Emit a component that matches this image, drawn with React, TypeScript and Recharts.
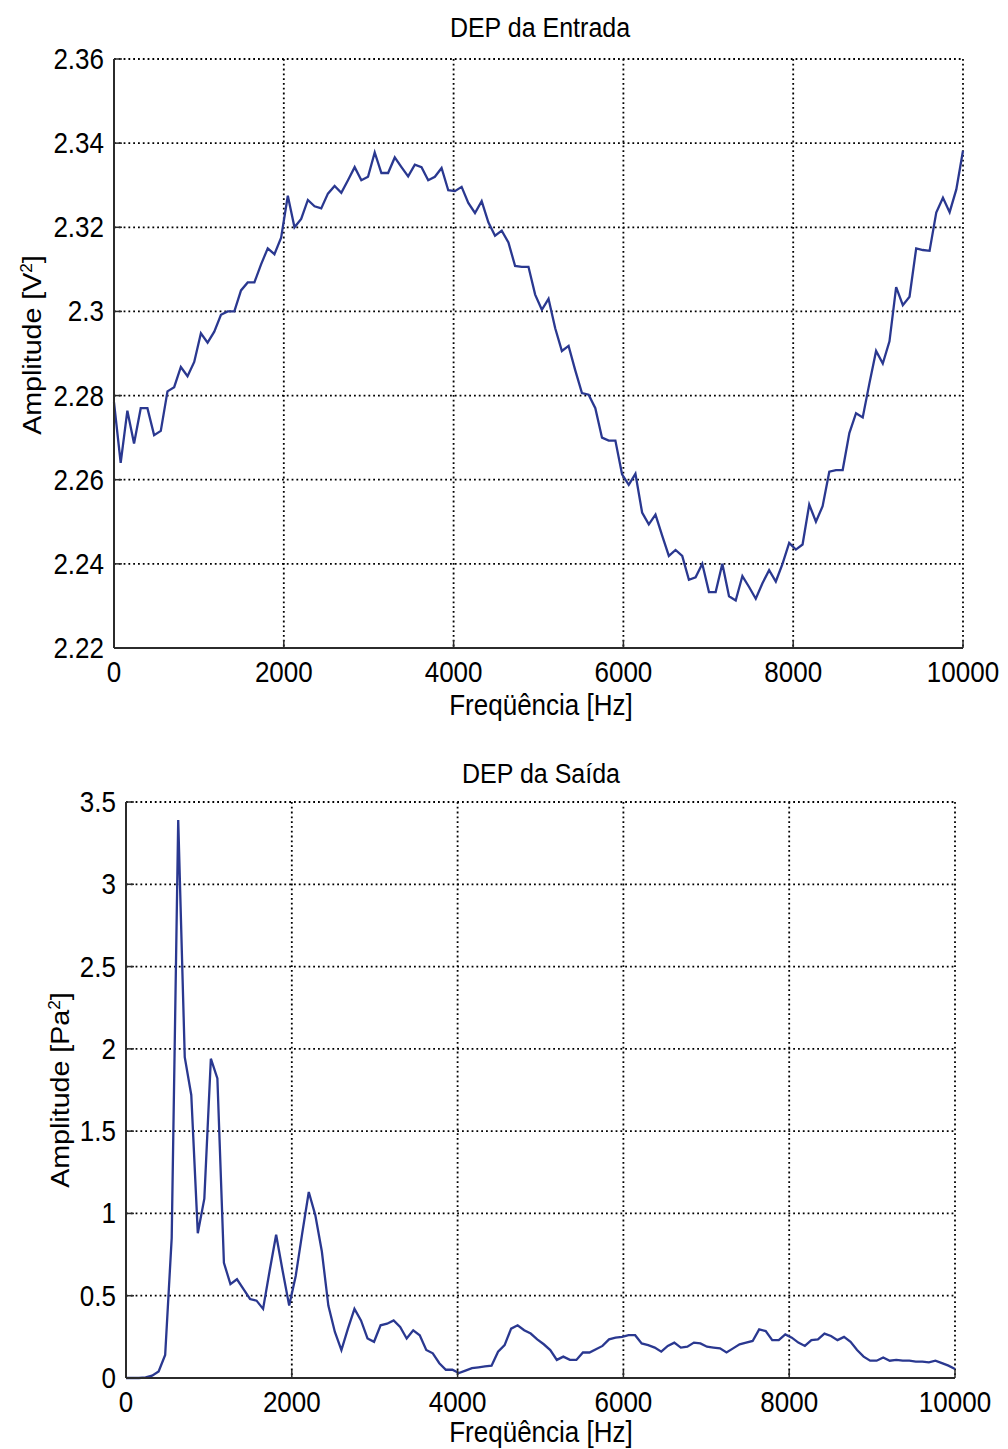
import { LineChart, Line, XAxis, YAxis, CartesianGrid } from "recharts";

// spectrum bins: 128 points from 0 to 10 kHz
const N_BINS = 128;
const F_MAX = 10000;

const INPUT_PSD = [
    2.2784, 2.264, 2.2764, 2.2686, 2.277, 2.277, 2.2706, 2.2716, 2.281, 2.282,
    2.2868, 2.2846, 2.288, 2.2948, 2.2926, 2.2952, 2.2992, 2.3, 2.3, 2.305,
    2.3069, 2.3069, 2.3112, 2.315, 2.3136, 2.3175, 2.3275, 2.32, 2.322, 2.3265,
    2.325, 2.3245, 2.328, 2.3298, 2.3282, 2.3312, 2.3343, 2.3312, 2.332, 2.3378,
    2.3329, 2.3329, 2.3366, 2.3343, 2.3321, 2.3349, 2.3343, 2.3312, 2.332, 2.3341,
    2.3288, 2.3286, 2.3296, 2.3258, 2.3234, 2.3262, 2.3212, 2.318, 2.3192, 2.3164,
    2.3108, 2.3106, 2.3106, 2.304, 2.3004, 2.303, 2.296, 2.2906, 2.2918, 2.286,
    2.2806, 2.2802, 2.277, 2.27, 2.2693, 2.2693, 2.2613, 2.2588, 2.2614, 2.2522,
    2.2494, 2.2517, 2.2467, 2.2419, 2.2433, 2.2419, 2.2362, 2.2368, 2.24, 2.2333,
    2.2333, 2.24, 2.2323, 2.2313, 2.2371, 2.2345, 2.2317, 2.2354, 2.2385, 2.2358,
    2.24, 2.245, 2.2434, 2.2446, 2.2541, 2.25, 2.2537, 2.2619, 2.2623, 2.2623,
    2.2711, 2.2758, 2.2748, 2.2829, 2.2906, 2.2876, 2.2929, 2.3058, 2.3015, 2.3035,
    2.315, 2.3146, 2.3144, 2.3235, 2.327, 2.3236, 2.329, 2.3382,
];

const OUTPUT_PSD = [
    0, 0, 0, 0.004, 0.014, 0.04, 0.14, 0.85, 3.39, 1.95,
    1.72, 0.88, 1.09, 1.94, 1.82, 0.7, 0.57, 0.6, 0.54, 0.48,
    0.47, 0.42, 0.65, 0.87, 0.65, 0.44, 0.62, 0.88, 1.13, 0.99,
    0.77, 0.44, 0.28, 0.17, 0.3, 0.42, 0.35, 0.24, 0.22, 0.32,
    0.33, 0.35, 0.31, 0.24, 0.29, 0.26, 0.17, 0.15, 0.09, 0.05,
    0.05, 0.03, 0.045, 0.06, 0.065, 0.07, 0.075, 0.16, 0.2, 0.3,
    0.32, 0.29, 0.27, 0.235, 0.205, 0.17, 0.11, 0.13, 0.11, 0.11,
    0.155, 0.155, 0.175, 0.195, 0.235, 0.245, 0.25, 0.26, 0.26, 0.21,
    0.2, 0.185, 0.16, 0.195, 0.215, 0.185, 0.19, 0.215, 0.21, 0.19,
    0.185, 0.18, 0.155, 0.18, 0.205, 0.215, 0.225, 0.295, 0.285, 0.23,
    0.23, 0.265, 0.245, 0.215, 0.195, 0.23, 0.235, 0.27, 0.255, 0.23,
    0.25, 0.22, 0.17, 0.13, 0.105, 0.105, 0.125, 0.105, 0.11, 0.105,
    0.105, 0.1, 0.1, 0.095, 0.105, 0.09, 0.075, 0.055,
];

const FREQ_TICKS = [0, 2000, 4000, 6000, 8000, 10000];
const INPUT_TICKS = [2.22, 2.24, 2.26, 2.28, 2.3, 2.32, 2.34, 2.36];
const OUTPUT_TICKS = [0, 0.5, 1, 1.5, 2, 2.5, 3, 3.5];

const FONT = "'Liberation Sans', Arial, Helvetica, sans-serif";
const LINE_COLOR = "#2a3890";
const FRAME = "#2b2b2b";
const TICK_LEN = 8;
const STRETCH = 1.1;

const toRows = (vals: number[]) =>
    vals.map((v, i) => ({ f: (i * F_MAX) / (N_BINS - 1), v }));

const inputRows = toRows(INPUT_PSD);
const outputRows = toRows(OUTPUT_PSD);

const BottomTick = (props: any) => {
    const { x, y, payload } = props;
    return (
        <g>
            <line x1={x} y1={y} x2={x} y2={y - TICK_LEN} stroke={FRAME} strokeWidth={1.5} />
            <text
                transform={`translate(${x} ${y + 24}) scale(1 ${STRETCH})`}
                textAnchor="middle"
                dominantBaseline="central"
                fontFamily={FONT}
                fontSize={26}
                fill="#000"
            >
                {String(payload.value)}
            </text>
        </g>
    );
};

const TopTick = (props: any) => {
    const { x, y } = props;
    return <line x1={x} y1={y} x2={x} y2={y + TICK_LEN} stroke={FRAME} strokeWidth={1.5} />;
};

const LeftTick = (props: any) => {
    const { x, y, payload } = props;
    return (
        <g>
            <line x1={x} y1={y} x2={x + TICK_LEN} y2={y} stroke={FRAME} strokeWidth={1.5} />
            <text
                transform={`translate(${x - 10} ${y}) scale(1 ${STRETCH})`}
                textAnchor="end"
                dominantBaseline="central"
                fontFamily={FONT}
                fontSize={26}
                fill="#000"
            >
                {String(payload.value)}
            </text>
        </g>
    );
};

const RightTick = (props: any) => {
    const { x, y } = props;
    return <line x1={x} y1={y} x2={x - TICK_LEN} y2={y} stroke={FRAME} strokeWidth={1.5} />;
};

const textBase: React.CSSProperties = {
    position: "absolute",
    fontFamily: FONT,
    color: "#000",
    whiteSpace: "nowrap",
    lineHeight: 1,
};

const HLabel = ({ x, y, size, children }: { x: number; y: number; size: number; children: React.ReactNode }) => (
    <div style={{ ...textBase, left: x, top: y, fontSize: size, transform: `translate(-50%, -50%) scale(1, ${STRETCH})` }}>
        {children}
    </div>
);

const VLabel = ({ x, y, size, children }: { x: number; y: number; size: number; children: React.ReactNode }) => (
    <div
        style={{
            ...textBase,
            left: x,
            top: y,
            fontSize: size,
            transform: `translate(-50%, -50%) rotate(-90deg) scale(${STRETCH}, 1)`,
        }}
    >
        {children}
    </div>
);

type PanelProps = {
    rows: { f: number; v: number }[];
    yTicks: number[];
    top: number;
    height: number;
    marginTop: number;
    marginRight: number;
    yAxisWidth: number;
};

const Panel = ({ rows, yTicks, top, height, marginTop, marginRight, yAxisWidth }: PanelProps) => {
    const yDomain = [yTicks[0], yTicks[yTicks.length - 1]];
    return (
        <div style={{ position: "absolute", left: 0, top }}>
            <LineChart
                width={1008}
                height={height}
                data={rows}
                margin={{ top: marginTop, right: marginRight, left: 0, bottom: 0 }}
            >
                <CartesianGrid stroke="#000" strokeWidth={1.8} strokeDasharray="1.8 3" />
                <XAxis
                    dataKey="f"
                    type="number"
                    domain={[0, F_MAX]}
                    ticks={FREQ_TICKS}
                    interval={0}
                    height={70}
                    tickSize={0}
                    tickMargin={0}
                    tickLine={false}
                    axisLine={{ stroke: FRAME, strokeWidth: 2 }}
                    tick={<BottomTick />}
                />
                <XAxis
                    xAxisId="top"
                    orientation="top"
                    type="number"
                    domain={[0, F_MAX]}
                    ticks={FREQ_TICKS}
                    interval={0}
                    height={0}
                    tickSize={0}
                    tickMargin={0}
                    tickLine={false}
                    axisLine={{ stroke: FRAME, strokeWidth: 2 }}
                    tick={<TopTick />}
                />
                <YAxis
                    type="number"
                    domain={yDomain}
                    ticks={yTicks}
                    interval={0}
                    width={yAxisWidth}
                    tickSize={0}
                    tickMargin={0}
                    tickLine={false}
                    axisLine={{ stroke: FRAME, strokeWidth: 2 }}
                    tick={<LeftTick />}
                />
                <YAxis
                    yAxisId="right"
                    orientation="right"
                    type="number"
                    domain={yDomain}
                    ticks={yTicks}
                    interval={0}
                    width={0}
                    tickSize={0}
                    tickMargin={0}
                    tickLine={false}
                    axisLine={{ stroke: FRAME, strokeWidth: 2 }}
                    tick={<RightTick />}
                />
                <Line
                    type="linear"
                    dataKey="v"
                    stroke={LINE_COLOR}
                    strokeWidth={2.3}
                    dot={false}
                    isAnimationActive={false}
                />
            </LineChart>
        </div>
    );
};

const App = () => {
    return (
        <div
            style={{
                position: "absolute",
                left: 0,
                top: 0,
                width: 1008,
                height: 1449,
                background: "#fff",
                overflow: "hidden",
            }}
        >
            <Panel
                rows={inputRows}
                yTicks={INPUT_TICKS}
                top={0}
                height={718}
                marginTop={59}
                marginRight={45}
                yAxisWidth={114}
            />
            <Panel
                rows={outputRows}
                yTicks={OUTPUT_TICKS}
                top={740}
                height={708}
                marginTop={62}
                marginRight={53}
                yAxisWidth={126}
            />

            <HLabel x={540} y={28} size={25}>DEP da Entrada</HLabel>
            <HLabel x={541} y={705} size={26}>Freqüência [Hz]</HLabel>
            <VLabel x={32} y={345} size={26}>
                Amplitude [V<sup style={{ fontSize: "0.6em" }}>2</sup>]
            </VLabel>

            <HLabel x={541} y={774} size={25}>DEP da Saída</HLabel>
            <HLabel x={541} y={1432} size={26}>Freqüência [Hz]</HLabel>
            <VLabel x={60} y={1090} size={26}>
                Amplitude [Pa<sup style={{ fontSize: "0.6em" }}>2</sup>]
            </VLabel>
        </div>
    );
};

export default App;
